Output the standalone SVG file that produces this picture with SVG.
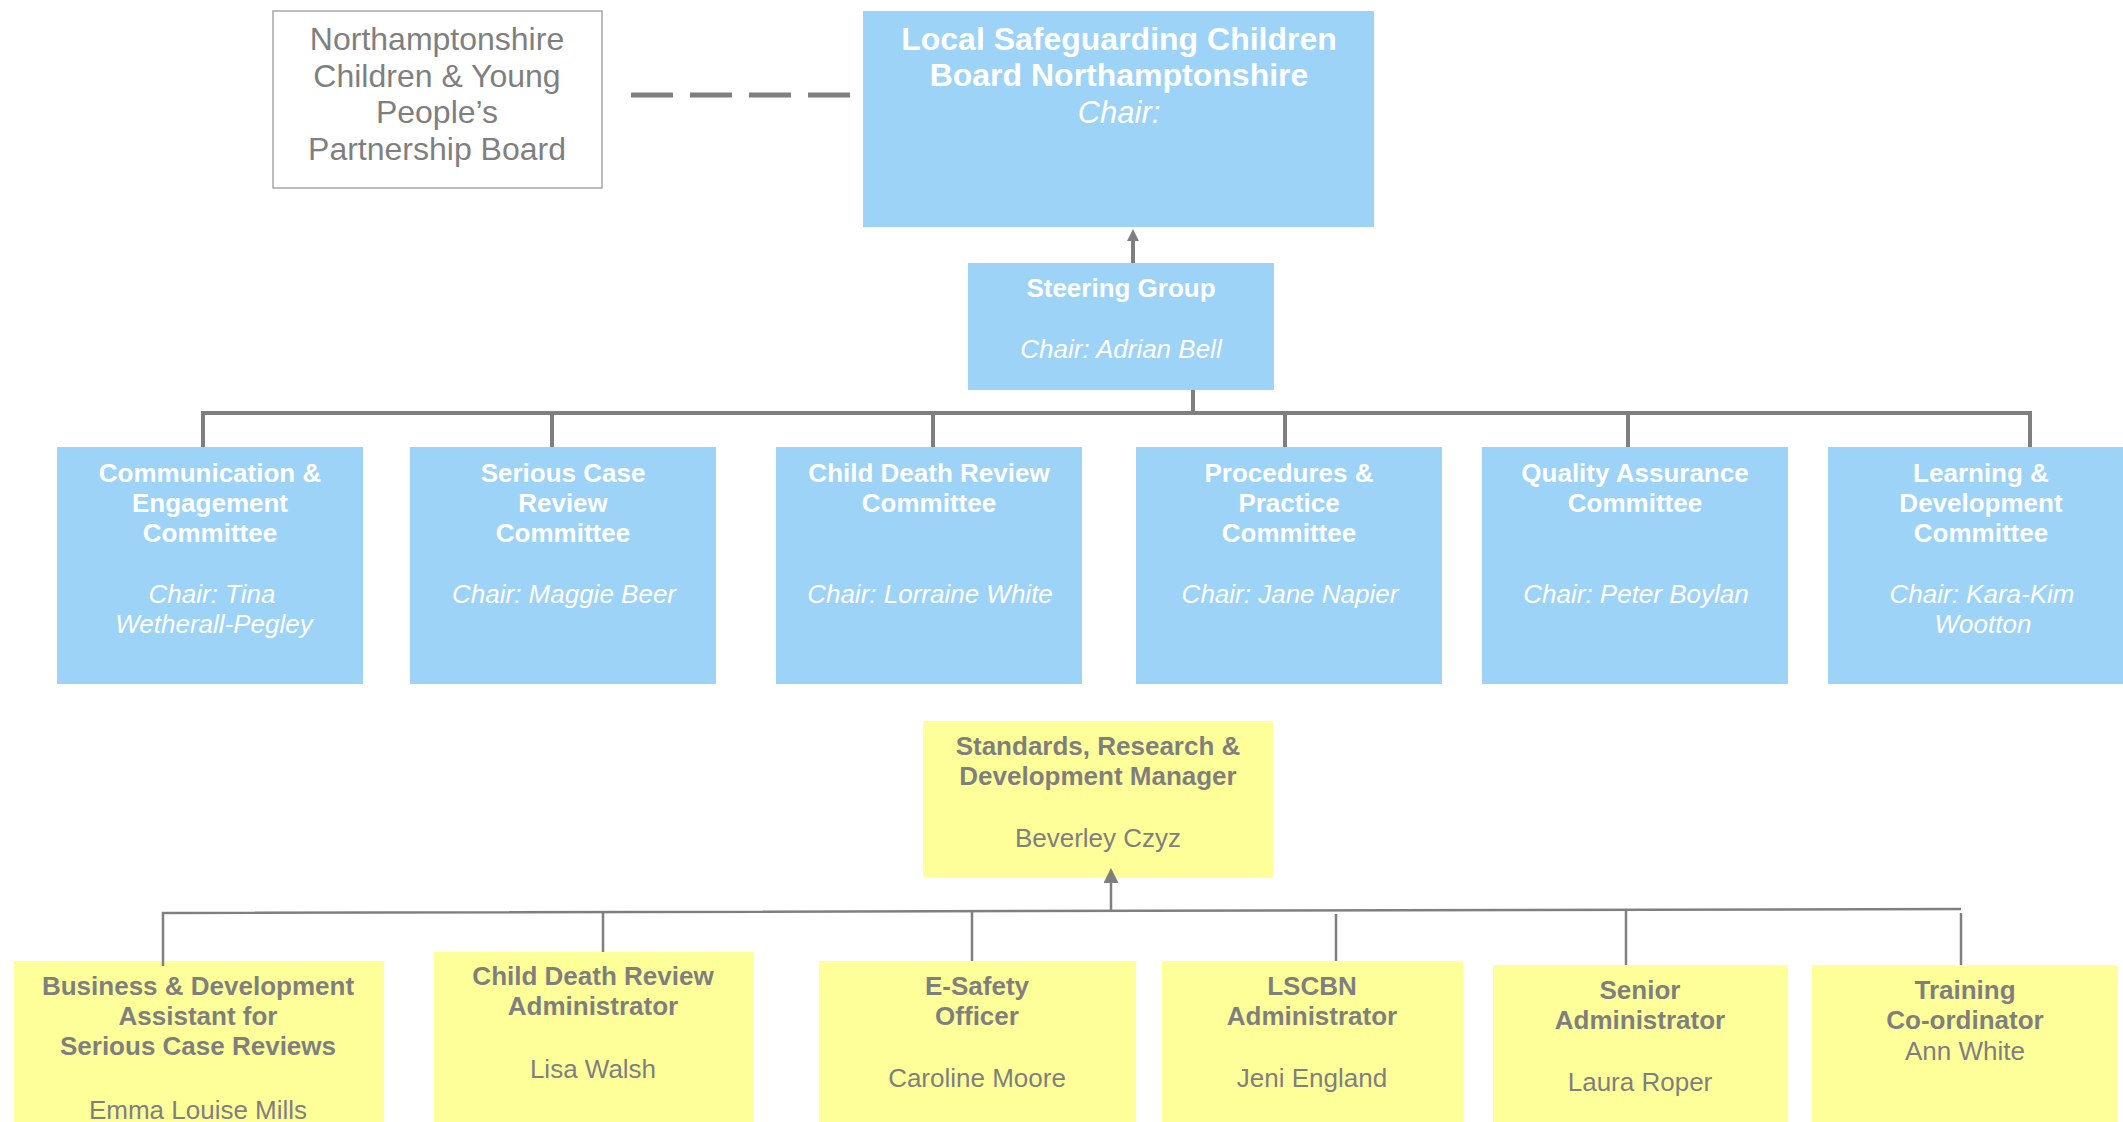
<svg xmlns="http://www.w3.org/2000/svg" width="2123" height="1122" viewBox="0 0 2123 1122">
<defs>
<style>
text{font-family:"Liberation Sans",Arial,sans-serif;text-anchor:middle}
.blue{fill:#9dd3f6}
.yel{fill:#ffff99}
.wb{fill:#ffffff;font-weight:bold;font-size:26px}
.wi{fill:#ffffff;font-style:italic;font-size:26px}
.gb{fill:#7f7f7f;font-weight:bold;font-size:26px}
.gr{fill:#7f7f7f;font-size:26px}
.conn{stroke:#7f7f7f;fill:none}
.thick{stroke-width:4}
.thin{stroke-width:2.5}
</style>
<marker id="arrA" markerUnits="userSpaceOnUse" markerWidth="12" markerHeight="12" refX="0" refY="6" orient="auto">
<path d="M0,0 L12,6 L0,12 z" fill="#7f7f7f"/>
</marker>
<marker id="arrB" markerUnits="userSpaceOnUse" markerWidth="15" markerHeight="15" refX="0" refY="7.5" orient="auto">
<path d="M0,0 L15,7.5 L0,15 z" fill="#7f7f7f"/>
</marker>
</defs>
<rect width="2123" height="1122" fill="#ffffff"/>

<g id="partnership-board">
<rect x="273" y="11" width="329" height="177" fill="#ffffff" stroke="#a6a6a6" stroke-width="1.5"/>
<text class="gr" style="font-size:32px" x="437" y="50">Northamptonshire</text>
<text class="gr" style="font-size:32px" x="437" y="86.5">Children &amp; Young</text>
<text class="gr" style="font-size:32px" x="437" y="123">People’s</text>
<text class="gr" style="font-size:32px" x="437" y="159.5">Partnership Board</text>
</g>

<g id="lscb">
<rect class="blue" x="863" y="11" width="511" height="216"/>
<text class="wb" style="font-size:32px" x="1119" y="50">Local Safeguarding Children</text>
<text class="wb" style="font-size:32px" x="1119" y="86">Board Northamptonshire</text>
<text class="wi" style="font-size:31px" x="1119" y="123">Chair:</text>
</g>

<g id="steering-group">
<rect class="blue" x="968" y="263" width="306" height="127"/>
<text class="wb" x="1121" y="297">Steering Group</text>
<text class="wi" x="1121" y="358">Chair: Adrian Bell</text>
</g>

<g id="communication">
<rect class="blue" x="57" y="447" width="306" height="237"/>
<text class="wb" x="210" y="482">Communication &amp;</text>
<text class="wb" x="210" y="512">Engagement</text>
<text class="wb" x="210" y="542">Committee</text>
<text class="wi" x="212" y="603">Chair: Tina</text>
<text class="wi" x="214" y="633">Wetherall-Pegley</text>
</g>

<g id="serious-case">
<rect class="blue" x="410" y="447" width="306" height="237"/>
<text class="wb" x="563" y="482">Serious Case</text>
<text class="wb" x="563" y="512">Review</text>
<text class="wb" x="563" y="542">Committee</text>
<text class="wi" x="564" y="603">Chair: Maggie Beer</text>
</g>

<g id="child-death">
<rect class="blue" x="776" y="447" width="306" height="237"/>
<text class="wb" x="929" y="482">Child Death Review</text>
<text class="wb" x="929" y="512">Committee</text>
<text class="wi" x="930" y="603">Chair: Lorraine White</text>
</g>

<g id="procedures">
<rect class="blue" x="1136" y="447" width="306" height="237"/>
<text class="wb" x="1289" y="482">Procedures &amp;</text>
<text class="wb" x="1289" y="512">Practice</text>
<text class="wb" x="1289" y="542">Committee</text>
<text class="wi" x="1290" y="603">Chair: Jane Napier</text>
</g>

<g id="quality">
<rect class="blue" x="1482" y="447" width="306" height="237"/>
<text class="wb" x="1635" y="482">Quality Assurance</text>
<text class="wb" x="1635" y="512">Committee</text>
<text class="wi" x="1636" y="603">Chair: Peter Boylan</text>
</g>

<g id="learning">
<rect class="blue" x="1828" y="447" width="306" height="237"/>
<text class="wb" x="1981" y="482">Learning &amp;</text>
<text class="wb" x="1981" y="512">Development</text>
<text class="wb" x="1981" y="542">Committee</text>
<text class="wi" x="1982" y="603">Chair: Kara-Kim</text>
<text class="wi" x="1983" y="633">Wootton</text>
</g>

<g id="standards">
<rect class="yel" x="923" y="721" width="350" height="156"/>
<text class="gb" x="1098" y="755">Standards, Research &amp;</text>
<text class="gb" x="1098" y="785">Development Manager</text>
<text class="gr" x="1098" y="847">Beverley Czyz</text>
</g>

<g id="business">
<rect class="yel" x="14" y="961" width="370" height="161"/>
<text class="gb" x="198" y="995">Business &amp; Development</text>
<text class="gb" x="198" y="1025">Assistant for</text>
<text class="gb" x="198" y="1055">Serious Case Reviews</text>
<text class="gr" x="198" y="1119">Emma Louise Mills</text>
</g>

<g id="cdr-admin">
<rect class="yel" x="434" y="952" width="320" height="170"/>
<text class="gb" x="593" y="985">Child Death Review</text>
<text class="gb" x="593" y="1015">Administrator</text>
<text class="gr" x="593" y="1078">Lisa Walsh</text>
</g>

<g id="esafety">
<rect class="yel" x="819" y="961" width="317" height="161"/>
<text class="gb" x="977" y="995">E-Safety</text>
<text class="gb" x="977" y="1025">Officer</text>
<text class="gr" x="977" y="1087">Caroline Moore</text>
</g>

<g id="lscbn-admin">
<rect class="yel" x="1162" y="961" width="301" height="161"/>
<text class="gb" x="1312" y="995">LSCBN</text>
<text class="gb" x="1312" y="1025">Administrator</text>
<text class="gr" x="1312" y="1087">Jeni England</text>
</g>

<g id="senior-admin">
<rect class="yel" x="1493" y="965" width="295" height="157"/>
<text class="gb" x="1640" y="999">Senior</text>
<text class="gb" x="1640" y="1029">Administrator</text>
<text class="gr" x="1640" y="1091">Laura Roper</text>
</g>

<g id="training">
<rect class="yel" x="1812" y="965" width="306" height="157"/>
<text class="gb" x="1965" y="999">Training</text>
<text class="gb" x="1965" y="1029">Co-ordinator</text>
<text class="gr" x="1965" y="1060">Ann White</text>
</g>

<g id="connectors">
<line class="conn" x1="631" y1="95" x2="852" y2="95" stroke-width="5" stroke-dasharray="42 17"/>
<line class="conn thick" x1="1133" y1="263" x2="1133" y2="241" marker-end="url(#arrA)"/>
<line class="conn thick" x1="1193" y1="390" x2="1193" y2="413"/>
<polyline class="conn thick" points="203,447 203,413 2030,413 2030,447"/>
<line class="conn thick" x1="552" y1="413" x2="552" y2="447"/>
<line class="conn thick" x1="933" y1="413" x2="933" y2="447"/>
<line class="conn thick" x1="1285" y1="413" x2="1285" y2="447"/>
<line class="conn thick" x1="1628" y1="413" x2="1628" y2="447"/>
<line class="conn thin" x1="1111" y1="912" x2="1111" y2="883" marker-end="url(#arrB)"/>
<polyline class="conn thin" points="163,966 163,913 1961,909"/>
<line class="conn thin" x1="1961" y1="913" x2="1961" y2="965"/>
<line class="conn thin" x1="603" y1="912" x2="603" y2="952"/>
<line class="conn thin" x1="972" y1="911" x2="972" y2="961"/>
<line class="conn thin" x1="1336" y1="914" x2="1336" y2="961"/>
<line class="conn thin" x1="1626" y1="910" x2="1626" y2="965"/>
</g>
</svg>
